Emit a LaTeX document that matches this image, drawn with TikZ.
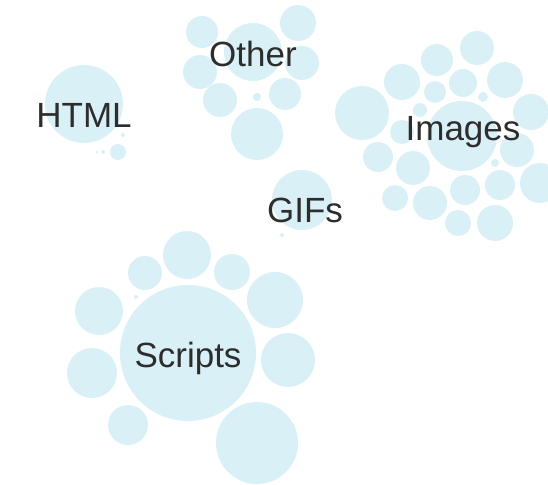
\documentclass[tikz,border=0pt]{standalone}
\usepackage{fontspec}
\setmainfont{Liberation Sans}
\definecolor{bub}{RGB}{217,240,246}
\definecolor{lbl}{RGB}{45,45,45}
\tikzset{
  bubble/.style={fill=bub},
  lab/.style={text=lbl, font=\fontsize{35}{40}\selectfont, inner sep=0pt, anchor=base}
}
\begin{document}
\begin{tikzpicture}[x=1pt,y=-1pt]
\useasboundingbox (0,0) rectangle (548,484);
% HTML
\foreach \x/\y/\r in {84/104/39, 118/152/8, 103/152/2, 123/135/2, 97/152/1.5}
  \fill[bubble] (\x,\y) circle (\r);
% Other
\foreach \x/\y/\r in {202/32/16, 253/52/29, 298/23/18, 302/63/17, 200/72/17,
  220/100/17, 257/97/4, 285/94/16, 257/134/26}
  \fill[bubble] (\x,\y) circle (\r);
% GIFs
\foreach \x/\y/\r in {302/200/30, 282/235/2}
  \fill[bubble] (\x,\y) circle (\r);
% Images
\foreach \x/\y/\r in {362/113/27, 402/82/18, 437/60/16, 477/48/17, 505/80/18,
  463/83/14, 435/92/11, 483/97/5, 531/112/18, 420/110/7, 402/132/12,
  462/136/35, 517/150/17, 378/157/15, 413/168/17, 495/163/4, 540/183/20,
  395/198/13, 430/203/17, 465/190/15, 500/185/15, 458/223/13, 495/223/18}
  \fill[bubble] (\x,\y) circle (\r);
% Scripts
\foreach \x/\y/\r in {188/353/68, 187/255/24, 145/273/17, 232/272/18, 275/300/28,
  99/311/24, 288/360/27, 92/373/25, 128/425/20, 257/443/41, 136/297/2}
  \fill[bubble] (\x,\y) circle (\r);
% labels
\node[lab] (html) at (84,128) {HTML};
\node[lab] (other) at (253,67) {Other};
\node[lab] (images) at (463,140) {Images};
\node[lab] (gifs) at (305,222) {GIFs};
\node[lab] (scripts) at (188,367) {Scripts};
\end{tikzpicture}
\end{document}
